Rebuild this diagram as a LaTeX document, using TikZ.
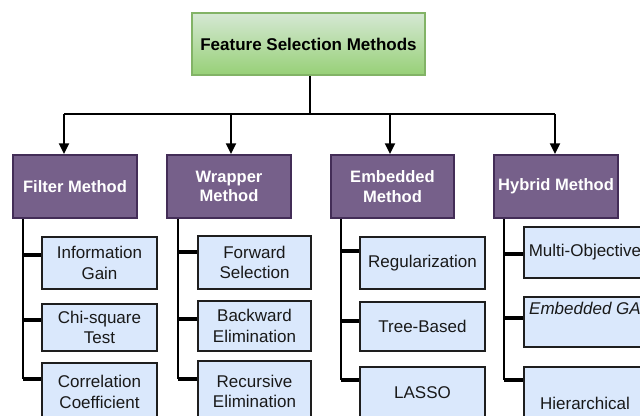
\documentclass[tikz,border=0pt]{standalone}
\usepackage{fontspec}
\setmainfont{Liberation Sans}
\usetikzlibrary{arrows.meta}
\definecolor{purfill}{HTML}{76608A}
\definecolor{purdraw}{HTML}{432D57}
\definecolor{bluefill}{HTML}{DAE8FC}
\definecolor{bluedraw}{HTML}{1E1E1E}
\definecolor{gtop}{HTML}{D5E8D4}
\definecolor{gbot}{HTML}{97D077}
\definecolor{gdraw}{HTML}{82B366}
\tikzset{
  sz/.style 2 args={minimum width=#1*0.75pt, minimum height=#2*0.75pt, inner sep=0pt},
  rootbox/.style={draw=gdraw, line width=1.2pt, top color=gtop, bottom color=gbot,
    font=\fontsize{12.75}{15.3}\selectfont\bfseries, text=black},
  catbox/.style={draw=purdraw, line width=1.5pt, fill=purfill, text=white, align=center,
    font=\fontsize{12.4}{14.6}\selectfont\bfseries},
  leafbox/.style={draw=bluedraw, line width=1.5pt, fill=bluefill, text=black!90, align=center,
    font=\fontsize{12.75}{15.4}\selectfont},
  conn/.style={line width=1.5pt, black},
  arr/.style={conn, -{Triangle[width=7.5pt,length=8pt]}},
  trunk/.style={line width=1.5pt, black},
  branch/.style={line width=2.3pt, black},
}
\begin{document}
\begin{tikzpicture}[x=0.75pt,y=-0.75pt]
\useasboundingbox (0,0) rectangle (640,416);
\clip (0,0) rectangle (640,416);
% root
\node[rootbox, sz={233}{62}] (root) at (308.5,44) {Feature Selection Methods};
% categories
\node[catbox, sz={124}{63}] (filter) at (75,186.5) {Filter Method};
\node[catbox, sz={124}{63}] (wrapper) at (229,186.5) {Wrapper\\Method};
\node[catbox, sz={123}{63}] (embedded) at (392.5,186.5) {Embedded\\Method};
\node[catbox, sz={124}{63}] (hybrid) at (556,186.5) {Hybrid Method};
% top connectors
\coordinate (tb) at (310,114);
\coordinate (b1) at (64,114);
\coordinate (b2) at (231,114);
\coordinate (b3) at (390,114);
\coordinate (b4) at (555,114);
\draw[conn] (root.south -| tb) -- (tb);
\draw[conn] (b1) -- (b4);
\draw[arr] (b1) -- (b1 |- filter.north);
\draw[arr] (b2) -- (b2 |- wrapper.north);
\draw[arr] (b3) -- (b3 |- embedded.north);
\draw[arr] (b4) -- (b4 |- hybrid.north);
% filter children
\node[leafbox, sz={115}{52}] (info) at (99.5,263) {Information\\Gain};
\node[leafbox, sz={115}{47}] (chi) at (99.5,327.5) {Chi-square\\Test};
\node[leafbox, sz={115}{58}] (corr) at (99.5,392) {Correlation\\Coefficient};
% wrapper children
\node[leafbox, sz={113}{53}] (fwd) at (254.5,262.5) {Forward\\Selection};
\node[leafbox, sz={113}{50}] (bwd) at (254.5,326) {Backward\\Elimination};
\node[leafbox, sz={113}{61}] (rec) at (254.5,391.5) {Recursive\\Elimination};
% embedded children
\node[leafbox, sz={125}{52}] (reg) at (422.5,263) {Regularization};
\node[leafbox, sz={125}{49}] (tree) at (422.5,326.5) {Tree-Based};
\node[leafbox, sz={125}{52}] (lasso) at (422.5,393) {LASSO};
% hybrid children
\node[leafbox, sz={122}{51}] (multi) at (585,252.5) {Multi-Objective};
\node[leafbox, sz={122}{50}] (ga) at (585,322) {\textit{Embedded GA}\\\strut};
\node[leafbox, sz={122}{72}] (hier) at (585,403) {Hierarchical};
% filter tree
\coordinate (f1) at (23,255);
\coordinate (f2) at (23,320);
\coordinate (f3) at (23,379);
\draw[trunk] (filter.south -| f1) -- (f3);
\draw[branch] (f1) -- (f1 -| info.west);
\draw[branch] (f2) -- (f2 -| chi.west);
\draw[branch] (f3) -- (f3 -| corr.west);
% wrapper tree
\coordinate (w1) at (178,252);
\coordinate (w2) at (178,319);
\coordinate (w3) at (178,379);
\draw[trunk] (wrapper.south -| w1) -- (w3);
\draw[branch] (w1) -- (w1 -| fwd.west);
\draw[branch] (w2) -- (w2 -| bwd.west);
\draw[branch] (w3) -- (w3 -| rec.west);
% embedded tree
\coordinate (e1) at (341,251);
\coordinate (e2) at (341,321);
\coordinate (e3) at (341,380);
\draw[trunk] (embedded.south -| e1) -- (e3);
\draw[branch] (e1) -- (e1 -| reg.west);
\draw[branch] (e2) -- (e2 -| tree.west);
\draw[branch] (e3) -- (e3 -| lasso.west);
% hybrid tree
\coordinate (h1) at (504,254);
\coordinate (h2) at (504,318);
\coordinate (h3) at (504,380);
\draw[trunk] (hybrid.south -| h1) -- (h3);
\draw[branch] (h1) -- (h1 -| multi.west);
\draw[branch] (h2) -- (h2 -| ga.west);
\draw[branch] (h3) -- (h3 -| hier.west);
\end{tikzpicture}
\end{document}
